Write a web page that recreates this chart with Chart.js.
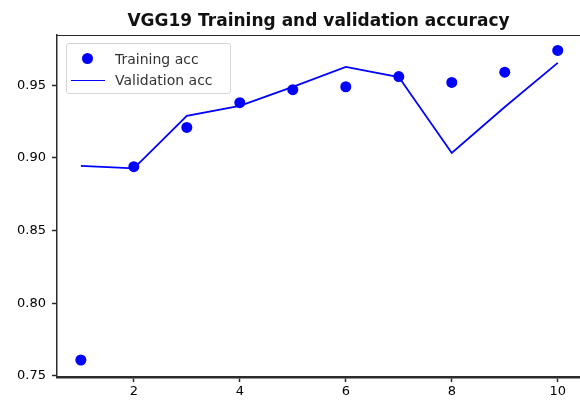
<!DOCTYPE html>
<html>
<head>
<meta charset="utf-8">
<script src="https://cdn.jsdelivr.net/npm/chart.js@4"></script>
<style>
  html, body { margin: 0; padding: 0; background: #fff; }
  #wrap { position: relative; width: 580px; height: 404px; }
  #legend {
    position: absolute; left: 66px; top: 43px; width: 163px; height: 49px;
    border: 1px solid #d6d6d6; border-radius: 3px; background: rgba(255,255,255,0.85);
    font-family: "DejaVu Sans", sans-serif; font-size: 14px; color: #333;
  }
  #legend .item { position: absolute; left: 0; height: 20px; line-height: 20px; }
  #legend .label { position: absolute; left: 48px; white-space: nowrap; }
</style>
</head>
<body>
<div id="wrap">
  <canvas id="chart" width="580" height="404"></canvas>
  <div id="legend"></div>
</div>
<script>
// Datos
const epochs = [1, 2, 3, 4, 5, 6, 7, 8, 9, 10];
const trainAcc = [0.761, 0.894, 0.921, 0.938, 0.947, 0.949, 0.956, 0.952, 0.959, 0.974];
const valAcc = [0.8945, 0.8928, 0.9289, 0.9358, 0.9489, 0.9626, 0.9557, 0.9034, 0.9351, 0.9654];
const seriesNames = ['Training acc', 'Validation acc'];
const chartTitle = 'VGG19 Training and validation accuracy';

const blue = '#0000ff';
const axisColor = '#2b2b2b';

// Borde superior del area (spine de matplotlib)
const topSpine = {
  id: 'topSpine',
  afterDraw(chart) {
    const { ctx, chartArea } = chart;
    ctx.save();
    ctx.strokeStyle = axisColor;
    ctx.lineWidth = 1.2;
    ctx.beginPath();
    ctx.moveTo(chartArea.left, chartArea.top + 0.5);
    ctx.lineTo(chartArea.right, chartArea.top + 0.5);
    ctx.stroke();
    ctx.restore();
  }
};

const chart = new Chart(document.getElementById('chart'), {
  type: 'line',
  data: {
    datasets: [
      {
        label: seriesNames[0],
        data: epochs.map((e, i) => ({ x: e, y: trainAcc[i] })),
        showLine: false,
        pointRadius: 5.5,
        pointBackgroundColor: blue,
        pointBorderColor: blue,
        pointBorderWidth: 0
      },
      {
        label: seriesNames[1],
        data: epochs.map((e, i) => ({ x: e, y: valAcc[i] })),
        borderColor: blue,
        borderWidth: 1.8,
        pointRadius: 0,
        tension: 0
      }
    ]
  },
  options: {
    responsive: false,
    animation: false,
    layout: { autoPadding: false, padding: { top: 0, right: 0, bottom: 0, left: 0 } },
    plugins: {
      legend: { display: false },
      tooltip: { enabled: false },
      title: {
        display: true,
        text: chartTitle,
        fullSize: false,
        color: '#111',
        font: { family: 'DejaVu Sans', size: 17, weight: 'bold', lineHeight: 1.2 },
        padding: { top: 11, bottom: 3.6 }
      }
    },
    scales: {
      x: {
        type: 'linear',
        min: 0.55,
        max: 10.42,
        grid: { drawOnChartArea: false, drawTicks: true, tickLength: 5, color: axisColor, tickWidth: 1.5 },
        border: { display: true, color: axisColor, width: 2.5 },
        ticks: {
          stepSize: 2,
          includeBounds: false,
          color: '#000',
          padding: 2,
          maxRotation: 0,
          font: { family: 'DejaVu Sans', size: 13 }
        },
        afterFit(scale) {
          scale.height = 27;
          scale.paddingLeft = 0;
          scale.paddingRight = 0;
        }
      },
      y: {
        type: 'linear',
        min: 0.7493,
        max: 0.9846,
        grid: { drawOnChartArea: false, drawTicks: true, tickLength: 5, color: axisColor, tickWidth: 1.5 },
        border: { display: true, color: axisColor, width: 1.5 },
        ticks: {
          stepSize: 0.05,
          includeBounds: false,
          color: '#000',
          padding: 6,
          font: { family: 'DejaVu Sans', size: 13 },
          callback: v => v.toFixed(2)
        },
        afterFit(scale) {
          scale.width = 57;
          scale.paddingTop = 0;
          scale.paddingBottom = 0;
        }
      }
    }
  },
  plugins: [topSpine]
});

// Leyenda HTML dentro del area del grafico
const legend = document.getElementById('legend');
chart.data.datasets.forEach((ds, i) => {
  const item = document.createElement('div');
  item.className = 'item';
  item.style.top = (5 + i * 21) + 'px';
  item.style.width = '100%';
  const marker = document.createElement('span');
  marker.style.position = 'absolute';
  if (ds.showLine === false) {
    marker.style.left = '15px';
    marker.style.top = '4px';
    marker.style.width = '11px';
    marker.style.height = '11px';
    marker.style.borderRadius = '50%';
    marker.style.background = ds.pointBackgroundColor;
  } else {
    marker.style.left = '4px';
    marker.style.top = '10px';
    marker.style.width = '34px';
    marker.style.height = '1px';
    marker.style.background = ds.borderColor;
  }
  const label = document.createElement('span');
  label.className = 'label';
  label.textContent = ds.label;
  item.appendChild(marker);
  item.appendChild(label);
  legend.appendChild(item);
});
</script>
</body>
</html>
